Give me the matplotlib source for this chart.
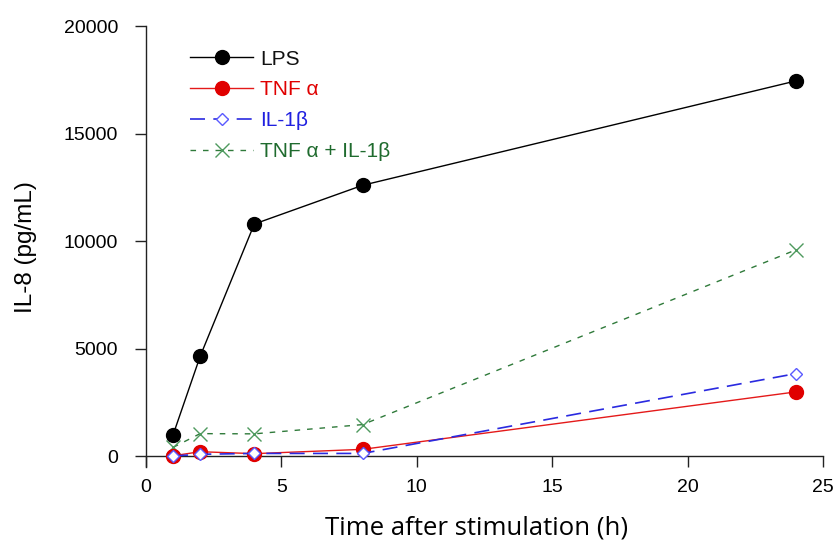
import matplotlib
matplotlib.use("Agg")
import matplotlib.pyplot as plt

plt.rcParams["font.family"] = ["Liberation Sans", "DejaVu Sans"]

hours = [1, 2, 4, 8, 24]
lps = [1000, 4650, 10800, 12600, 17450]
tnf = [30, 220, 130, 330, 3000]
il1b = [20, 100, 140, 140, 3850]
tnf_il1b = [420, 1060, 1050, 1480, 9600]

x_ticks = [0, 5, 10, 15, 20, 25]
y_ticks = [0, 5000, 10000, 15000, 20000]

fig = plt.figure(figsize=(8.36, 5.42), dpi=100)
ax = fig.add_axes([0.1746, 0.138, 0.81, 0.814])

ax.plot(hours, lps, color="black", lw=1.0, marker="o", ms=10,
        mfc="black", mec="black", label="LPS", zorder=5)
ax.plot(hours, tnf, color="#e41a1a", lw=1.0, marker="o", ms=10,
        mfc="#e00000", mec="#e00000", label="TNF \u03b1", zorder=4)
ax.plot(hours, il1b, color="#2a2ae0", lw=1.2, ls=(0, (9, 5)), marker="D", ms=6,
        mfc="white", mec="#5a5aff", mew=1.0, label="IL-1\u03b2", zorder=6)
ax.plot(hours, tnf_il1b, color="#2f7a3a", lw=1.0, ls=(0, (4, 5)), marker="x", ms=10,
        mec="#4e9a5e", mew=1.0, label="TNF \u03b1 + IL-1\u03b2", zorder=3)

ax.set_xlim(0, 25)
ax.set_ylim(-500, 20000)
ax.set_xticks(x_ticks)
ax.set_yticks(y_ticks)
ax.spines["bottom"].set_position(("data", 0))
for s in ("top", "right"):
    ax.spines[s].set_visible(False)
for s in ("left", "bottom"):
    ax.spines[s].set_linewidth(1.0)
    ax.spines[s].set_color("#222")
ax.tick_params(axis="both", labelsize=14, length=8, width=1.0, color="#222")
ax.xaxis.set_tick_params(pad=8)
ax.yaxis.set_tick_params(pad=12)

ax.set_xlabel("Time after stimulation (h)", fontsize=18.5, labelpad=14,
              family=["Open Sans", "DejaVu Sans"])
ax.xaxis.label.set_x(0.488)
ax.set_ylabel("IL-8 (pg/mL)", fontsize=17.5, labelpad=19)

leg = ax.legend(loc="upper left", bbox_to_anchor=(0.038, 0.989), frameon=False,
                fontsize=15, handlelength=3.0, labelspacing=0.57, handletextpad=0.35)
text_colors = ["#111111", "#e00000", "#2020e0", "#1f6b2e"]
for t, c in zip(leg.get_texts(), text_colors):
    t.set_color(c)

fig.savefig("out.png", dpi=100, facecolor="white")
